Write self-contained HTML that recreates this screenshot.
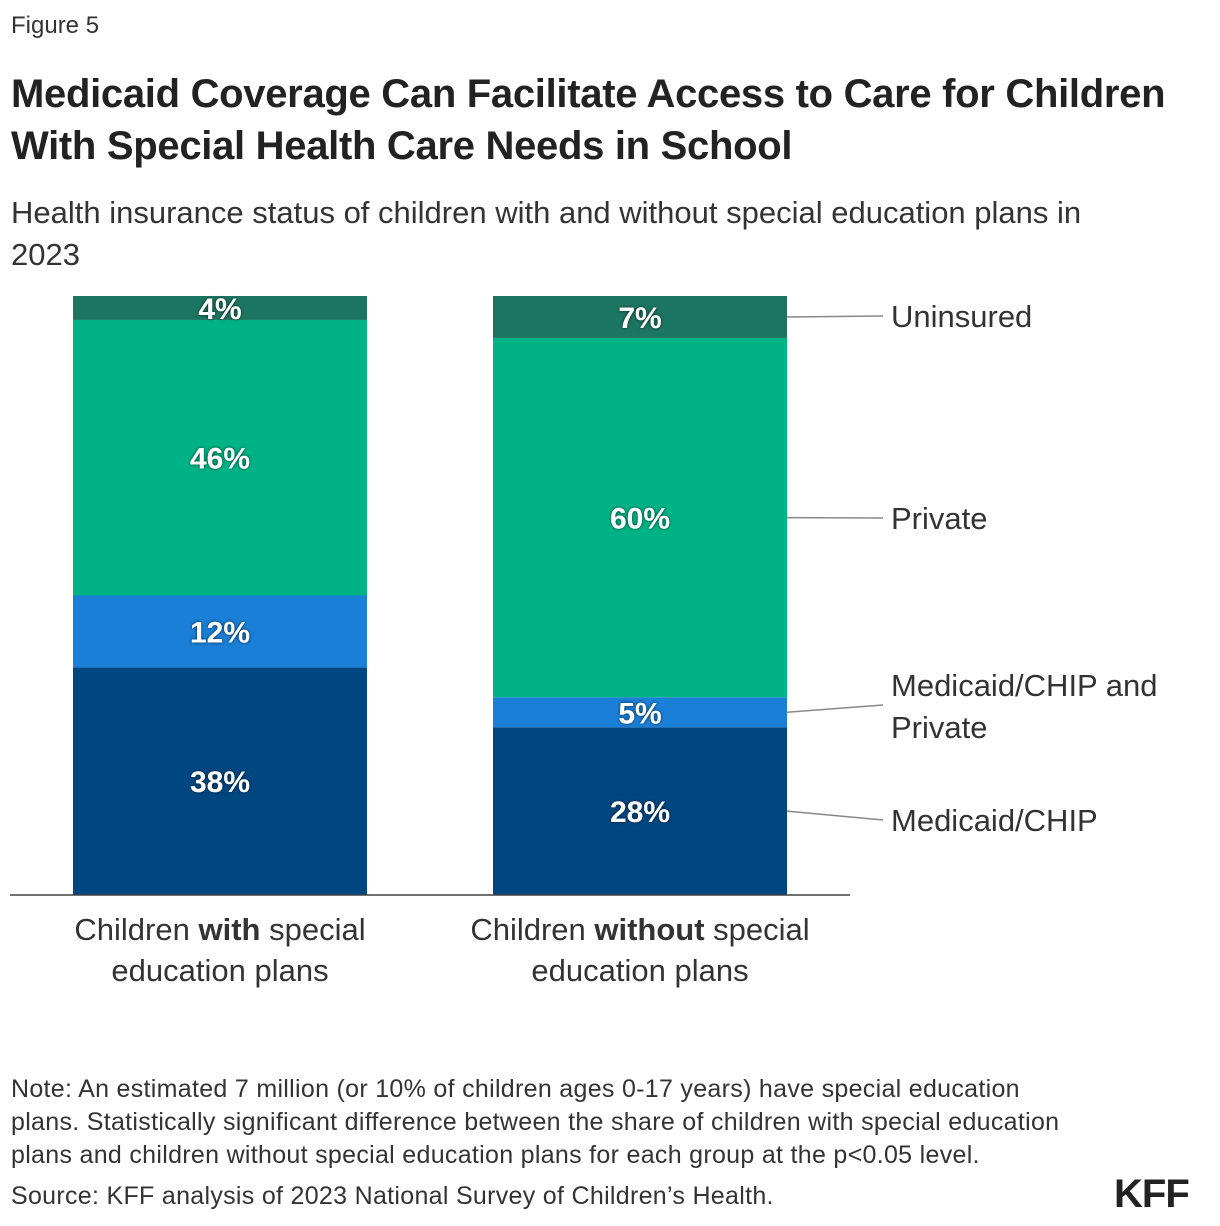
<!DOCTYPE html>
<html><head><meta charset="utf-8"><style>
body{margin:0;width:1220px;height:1226px;background:#fff;font-family:"Liberation Sans",sans-serif;color:#222;position:relative;overflow:hidden}
.a{position:absolute;margin:0}
</style></head><body>
<div class="a" style="left:11px;top:12px;font-size:24px;color:#333">Figure 5</div>
<div class="a" style="left:11px;top:68px;font-size:40px;font-weight:bold;line-height:52px;color:#222;letter-spacing:-0.3px;white-space:nowrap">Medicaid Coverage Can Facilitate Access to Care for Children<br>With Special Health Care Needs in School</div>
<div class="a" style="left:11px;top:192px;font-size:31px;line-height:42px;color:#333;white-space:nowrap">Health insurance status of children with and without special education plans in<br>2023</div>
<svg class="a" id="chart" style="left:0;top:0" width="1220" height="1030"></svg>
<div class="a" style="left:11px;top:1073px;font-size:25px;line-height:33px;color:#333;white-space:nowrap;letter-spacing:0.3px">Note: An estimated 7 million (or 10% of children ages 0-17 years) have special education<br>plans. Statistically significant difference between the share of children with special education<br>plans and children without special education plans for each group at the p&lt;0.05 level.</div>
<div class="a" style="left:11px;top:1182px;font-size:25px;color:#333;letter-spacing:0.3px">Source: KFF analysis of 2023 National Survey of Children’s Health.</div>
<div class="a" style="left:1114px;top:1172px;font-size:40px;font-weight:bold;color:#222;letter-spacing:-1px">KFF</div>
<script>
const categories=[["Children ","with"," special","education plans"],["Children ","without"," special","education plans"]];
const seriesNames=["Medicaid/CHIP","Medicaid/CHIP and Private","Private","Uninsured"];
const medicaid=[38,28];
const medPriv=[12,5];
const priv=[46,60];
const uninsured=[4,7];
const colors=["#004782","#1a7fd6","#00b386","#1c7561"];
const svg=document.getElementById('chart');
const NS="http://www.w3.org/2000/svg";
const y0=895,yTop=296,barW=294,barX=[73,493];
const y=v=>y0-(y0-yTop)*v/100;
function mk(t,a){const e=document.createElementNS(NS,t);for(const k in a)e.setAttribute(k,a[k]);svg.appendChild(e);return e;}
const series=[medicaid,medPriv,priv,uninsured];
const defs=mk('defs',{});
defs.innerHTML='<filter id="sh" x="-20%" y="-20%" width="140%" height="140%"><feDropShadow dx="0" dy="0" stdDeviation="1.5" flood-color="#000" flood-opacity="0.7"/></filter>';
const mids=[[],[]];
categories.forEach((c,i)=>{
  let cum=0;
  series.forEach((s,j)=>{
    const v=s[i];
    const r=mk('rect',{x:barX[i],y:y(cum+v),width:barW,height:y(cum)-y(cum+v),fill:colors[j]});
    
    
    const m=(y(cum)+y(cum+v))/2; mids[i].push(m);
    const t=mk('text',{x:barX[i]+barW/2,y:m+11,'text-anchor':'middle','font-size':30,'font-weight':'bold',fill:'#fff',filter:'url(#sh)'});
    t.textContent=v+'%';
    
    
    cum+=v;
  });
  const tl=mk('text',{x:barX[i]+barW/2,y:940,'text-anchor':'middle','font-size':31,fill:'#333'});
  tl.innerHTML=c[0]+'<tspan font-weight="bold">'+c[1]+'</tspan>'+c[2];
  
  
  const t2=mk('text',{x:barX[i]+barW/2,y:981,'text-anchor':'middle','font-size':31,fill:'#333'});
  t2.textContent=c[3];
  
  
});
const ax=mk('line',{x1:10,x2:850,y1:y0,y2:y0,stroke:'#444','stroke-width':1.5});


const labY=[820,685,518,316];
series.forEach((s,j)=>{
  const ly=j==1?705:labY[j];
  const l=mk('line',{x1:787,y1:mids[1][j],x2:883,y2:ly,stroke:'#888','stroke-width':1.5});
  
  
  const t=mk('text',{x:891,y:labY[j]+11,'font-size':31,fill:'#333'});
  if(j==1){t.innerHTML='<tspan x="891">Medicaid/CHIP and</tspan><tspan x="891" dy="42">Private</tspan>';}
  else t.textContent=seriesNames[j];
  
  
});
</script>
</body></html>
